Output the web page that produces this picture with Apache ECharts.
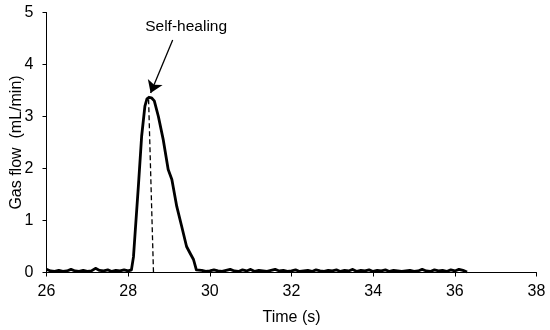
<!DOCTYPE html>
<html><head><meta charset="utf-8">
<script src="https://cdn.jsdelivr.net/npm/echarts@6/dist/echarts.min.js"></script>
<style>html,body{margin:0;padding:0;background:#fff}#c{width:550px;height:330px}</style>
</head><body><div id="c"></div>
<script>
// Time (s)
const times = [
26.0,26.1,26.2,26.3,26.4,26.5,26.6,26.7,26.8,26.9,27.0,27.1,27.2,27.3,27.4,27.5,27.6,27.7,27.8,27.9,28.0,28.08,
28.13,28.17,28.25,28.33,28.41,28.46,28.51,28.57,28.64,28.74,28.86,28.98,29.07,29.19,29.31,29.43,29.51,29.60,29.67,
29.7,29.8,29.9,30.0,30.1,30.2,30.3,30.4,30.5,30.6,30.7,30.8,30.9,31.0,31.1,31.2,31.3,31.4,31.5,31.6,31.7,31.8,31.9,
32.0,32.1,32.2,32.3,32.4,32.5,32.6,32.7,32.8,32.9,33.0,33.1,33.2,33.3,33.4,33.5,33.6,33.7,33.8,33.9,
34.0,34.1,34.2,34.3,34.4,34.5,34.6,34.7,34.8,34.9,35.0,35.1,35.2,35.3,35.4,35.5,35.6,35.7,35.8,35.9,
36.0,36.1,36.2,36.3
];
// Gas flow (mL/min)
const flow = [
0.06,0.03,0.02,0.04,0.02,0.03,0.06,0.03,0.02,0.04,0.02,0.03,0.08,0.04,0.03,0.05,0.02,0.04,0.03,0.05,0.03,0.05,
0.30,0.76,1.66,2.62,3.20,3.34,3.37,3.36,3.30,3.00,2.55,1.98,1.79,1.27,0.89,0.50,0.38,0.25,0.05,
0.03,0.04,0.02,0.03,0.05,0.03,0.02,0.04,0.06,0.03,0.02,0.05,0.03,0.06,0.02,0.04,0.03,0.02,0.04,0.06,0.03,0.04,0.02,
0.03,0.05,0.02,0.03,0.04,0.02,0.05,0.03,0.02,0.04,0.03,0.05,0.02,0.04,0.03,0.06,0.02,0.04,0.03,0.05,
0.02,0.04,0.03,0.05,0.02,0.04,0.03,0.02,0.03,0.04,0.02,0.03,0.06,0.03,0.02,0.05,0.03,0.04,0.02,0.05,
0.03,0.06,0.04,0.01
];
// dashed marker line from the peak down to the axis
const dashT = [28.50, 28.62];
const dashY = [3.33, 0];
// annotation
const noteText = 'Self-healing';
const notePos = [29.42, 4.72];
const arrowFrom = [29.09, 4.47];
const arrowTo = [28.55, 3.45];

const xTicks = {min: 26, max: 38, interval: 2};
const yTicks = {min: 0, max: 5, interval: 1};

const font = 'Liberation Sans, Arial, sans-serif';
const chart = echarts.init(document.getElementById('c'));
chart.setOption({
  animation: false,
  grid: {left: 46.5, right: 13.5, top: 12.5, bottom: 57.5, containLabel: false, outerBoundsMode: 'none'},
  xAxis: {
    type: 'value', min: xTicks.min, max: xTicks.max, interval: xTicks.interval,
    name: 'Time (s)', nameLocation: 'middle', nameGap: 37, nameMoveOverlap: false,
    nameTextStyle: {color: '#000', fontSize: 16, fontFamily: font},
    axisLine: {lineStyle: {color: '#000', width: 1}},
    axisTick: {length: 4, lineStyle: {color: '#000'}},
    axisLabel: {color: '#000', fontSize: 16, fontFamily: font, margin: 11},
    splitLine: {show: false}
  },
  yAxis: {
    type: 'value', min: yTicks.min, max: yTicks.max, interval: yTicks.interval,
    name: 'Gas flow  (mL/min)', nameLocation: 'middle', nameGap: 22, nameRotate: 90, nameMoveOverlap: false,
    nameTextStyle: {color: '#000', fontSize: 16, fontFamily: font},
    axisLine: {show: true, lineStyle: {color: '#000', width: 1}},
    axisTick: {show: true, length: 4, lineStyle: {color: '#000'}},
    axisLabel: {color: '#000', fontSize: 16, fontFamily: font, margin: 13},
    splitLine: {show: false}
  },
  series: [
    {
      type: 'line', data: times.map((t, i) => [t, flow[i]]),
      showSymbol: false, symbol: 'none', z: 3,
      lineStyle: {color: '#000', width: 2.8, join: 'round'},
      markLine: {
        silent: true, symbol: ['none', 'arrow'], symbolSize: 12,
        lineStyle: {color: '#000', width: 1.3, type: 'solid'},
        label: {show: false},
        data: [[{coord: arrowFrom}, {coord: arrowTo}]]
      },
      markPoint: {
        symbol: 'circle', symbolSize: 0,
        label: {show: true, formatter: noteText, color: '#000', fontSize: 15.5, fontFamily: font, position: 'inside'},
        data: [{coord: notePos}]
      }
    },
    {
      type: 'line', data: dashT.map((t, i) => [t, dashY[i]]),
      showSymbol: false, symbol: 'none', z: 2,
      lineStyle: {color: '#000', width: 1.3, type: [5, 3]}
    }
  ]
});
</script></body></html>
